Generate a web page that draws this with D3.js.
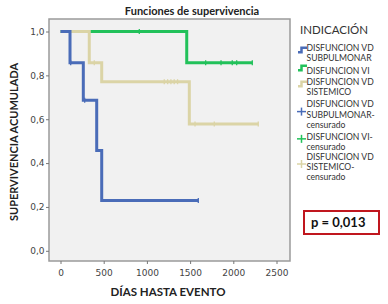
<!DOCTYPE html>
<html>
<head>
<meta charset="utf-8">
<script src="https://cdn.jsdelivr.net/npm/d3@7"></script>
<style>
  body { margin: 0; background: #fff; }
  svg { display: block; }
</style>
</head>
<body>
<svg id="km_chart" width="388" height="304"></svg>
<script>
// survival step data (days, cumulative survival)
var subpTimes = [0, 110, 264, 419, 477];
var subpSurv = [1, 0.857, 0.686, 0.457, 0.229];
var subpEnd = 1595;
var subpCensT = [118, 280, 1595];
var subpCensS = [0.857, 0.686, 0.229];

var viTimes = [0, 1461];
var viSurv = [1, 0.857];
var viEnd = 2220;
var viCensT = [912, 1680, 1858, 1988, 2039, 2220];
var viCensS = [1, 0.857, 0.857, 0.857, 0.857, 0.857];

var sistTimes = [0, 333, 477, 1491];
var sistSurv = [1, 0.857, 0.771, 0.578];
var sistEnd = 2289;
var sistCensT = [391, 1201, 1240, 1278, 1316, 1355, 1557, 1780, 2289];
var sistCensS = [0.857, 0.771, 0.771, 0.771, 0.771, 0.771, 0.578, 0.578, 0.578];

var xTicks = [0, 500, 1000, 1500, 2000, 2500];
var yTicks = [0, 0.2, 0.4, 0.6, 0.8, 1.0];

var legendLines = [
    ["DISFUNCION VD", "SUBPULMONAR"],
    ["DISFUNCION VI"],
    ["DISFUNCION VD", "SISTEMICO"],
    ["DISFUNCION VD", "SUBPULMONAR-", "censurado"],
    ["DISFUNCION VI-", "censurado"],
    ["DISFUNCION VD", "SISTEMICO-", "censurado"]
];

const colBlue = "#4a6cb8";
const colGreen = "#22c15a";
const colBeige = "#dbd4a6";

var svg = d3.select("#km_chart");
const frame = {left: 49, top: 19, right: 290, bottom: 261};

var xScale = d3.scaleLinear().domain([0, 2500]).range([60.5, 276.5]);
var yScale = d3.scaleLinear().domain([0, 1]).range([250.8, 31.5]);

svg.append("rect")
    .attr("x", frame.left).attr("y", frame.top)
    .attr("width", frame.right - frame.left)
    .attr("height", frame.bottom - frame.top)
    .attr("fill", "#f1f1f1")
    .attr("stroke", "#9a9a9a")
    .attr("stroke-width", 1.5);

// axes
var xAxis = d3.axisBottom(xScale).tickValues(xTicks).tickSize(3).tickFormat(d3.format("d"));
var yAxis = d3.axisLeft(yScale).tickValues(yTicks).tickSize(3)
    .tickFormat(d => d3.format(".1f")(d).replace(".", ","));

var gx = svg.append("g").attr("transform", "translate(0," + frame.bottom + ")").call(xAxis);
var gy = svg.append("g").attr("transform", "translate(" + frame.left + ",0)").call(yAxis);
[gx, gy].forEach(function(g) {
    g.select(".domain").remove();
    g.selectAll(".tick line").attr("stroke", "#777");
    g.selectAll(".tick text")
        .attr("fill", "#444")
        .style("font-family", "DejaVu Sans")
        .style("font-size", "9px");
});
gx.selectAll(".tick text").attr("dy", "0.95em");
gy.selectAll(".tick text").attr("x", -4.5);

function stepPath(times, surv, end) {
    var pts = [];
    times.forEach(function(t, i) {
        if (i > 0) pts.push([t, surv[i - 1]]);
        pts.push([t, surv[i]]);
    });
    pts.push([end, surv[surv.length - 1]]);
    return d3.line().x(d => xScale(d[0])).y(d => yScale(d[1]))(pts);
}

function drawCurve(times, surv, end, censT, censS, color) {
    var g = svg.append("g");
    g.append("path")
        .attr("d", stepPath(times, surv, end))
        .attr("fill", "none")
        .attr("stroke", color)
        .attr("stroke-width", 3);
    g.selectAll("line.cens")
        .data(censT.map((t, i) => [t, censS[i]]))
        .enter().append("line").classed("cens", true)
        .attr("x1", d => xScale(d[0])).attr("x2", d => xScale(d[0]))
        .attr("y1", d => yScale(d[1]) - 2.5).attr("y2", d => yScale(d[1]) + 2.5)
        .attr("stroke", color)
        .attr("stroke-width", 1.3);
}

drawCurve(viTimes, viSurv, viEnd, viCensT, viCensS, colGreen);
drawCurve(sistTimes, sistSurv, sistEnd, sistCensT, sistCensS, colBeige);
drawCurve(subpTimes, subpSurv, subpEnd, subpCensT, subpCensS, colBlue);

// titles
svg.append("text")
    .attr("x", 192).attr("y", 15)
    .attr("text-anchor", "middle")
    .style("font-family", "Lato").style("font-weight", "bold").style("font-size", "11px")
    .attr("fill", "#222")
    .text("Funciones de supervivencia");

svg.append("text")
    .attr("x", 168).attr("y", 296)
    .attr("text-anchor", "middle")
    .style("font-family", "Lato").style("font-weight", "bold").style("font-size", "11.5px")
    .attr("fill", "#222")
    .text("DÍAS HASTA EVENTO");

svg.append("text")
    .attr("transform", "translate(18,142) rotate(-90)")
    .attr("text-anchor", "middle")
    .style("font-family", "Lato").style("font-weight", "bold").style("font-size", "11px")
    .attr("fill", "#222")
    .text("SUPERVIVENCIA ACUMULADA");

// legend
var legend = svg.append("g");
legend.append("text")
    .attr("x", 300).attr("y", 34)
    .style("font-family", "Lato").style("font-size", "11.5px")
    .attr("fill", "#333")
    .text("INDICACIÓN");

var legendColors = [colBlue, colGreen, colBeige, colBlue, colGreen, colBeige];
var lineH = 10.3;
var rowY = [47.7, 70.7, 81.7, 104.3, 136.7, 156.7];
var markY = [0.5, 0, 0.5, 1, 0.5, 1];

legendLines.forEach(function(lines, i) {
    var g = legend.append("g");
    var cy = rowY[i] - 3 + markY[i] * lineH;
    if (i < 3) {
        g.append("path")
            .attr("d", "M298," + (cy + 2.5) + "H301.5V" + (cy - 2) + "H307")
            .attr("fill", "none")
            .attr("stroke", legendColors[i])
            .attr("stroke-width", 2.5);
    } else {
        g.append("line")
            .attr("x1", 297).attr("x2", 306)
            .attr("y1", cy).attr("y2", cy)
            .attr("stroke", legendColors[i]).attr("stroke-width", 1.5);
        g.append("line")
            .attr("x1", 301.5).attr("x2", 301.5)
            .attr("y1", cy - 4).attr("y2", cy + 4)
            .attr("stroke", legendColors[i]).attr("stroke-width", 1.5);
    }
    lines.forEach(function(s, j) {
        g.append("text")
            .attr("x", 306.5).attr("y", rowY[i] + 3 + j * lineH)
            .style("font-family", "Lato").style("font-size", "8.6px")
            .attr("fill", "#333")
            .text(s);
    });
});

// p value box
svg.append("rect")
    .attr("x", 304).attr("y", 211)
    .attr("width", 75).attr("height", 23)
    .attr("fill", "#fff")
    .attr("stroke", "#c0161e")
    .attr("stroke-width", 2);
svg.append("text")
    .attr("x", 311).attr("y", 227)
    .style("font-family", "Lato").style("font-weight", "bold").style("font-size", "13px")
    .attr("fill", "#111")
    .text("p = 0,013");
</script>
</body>
</html>
